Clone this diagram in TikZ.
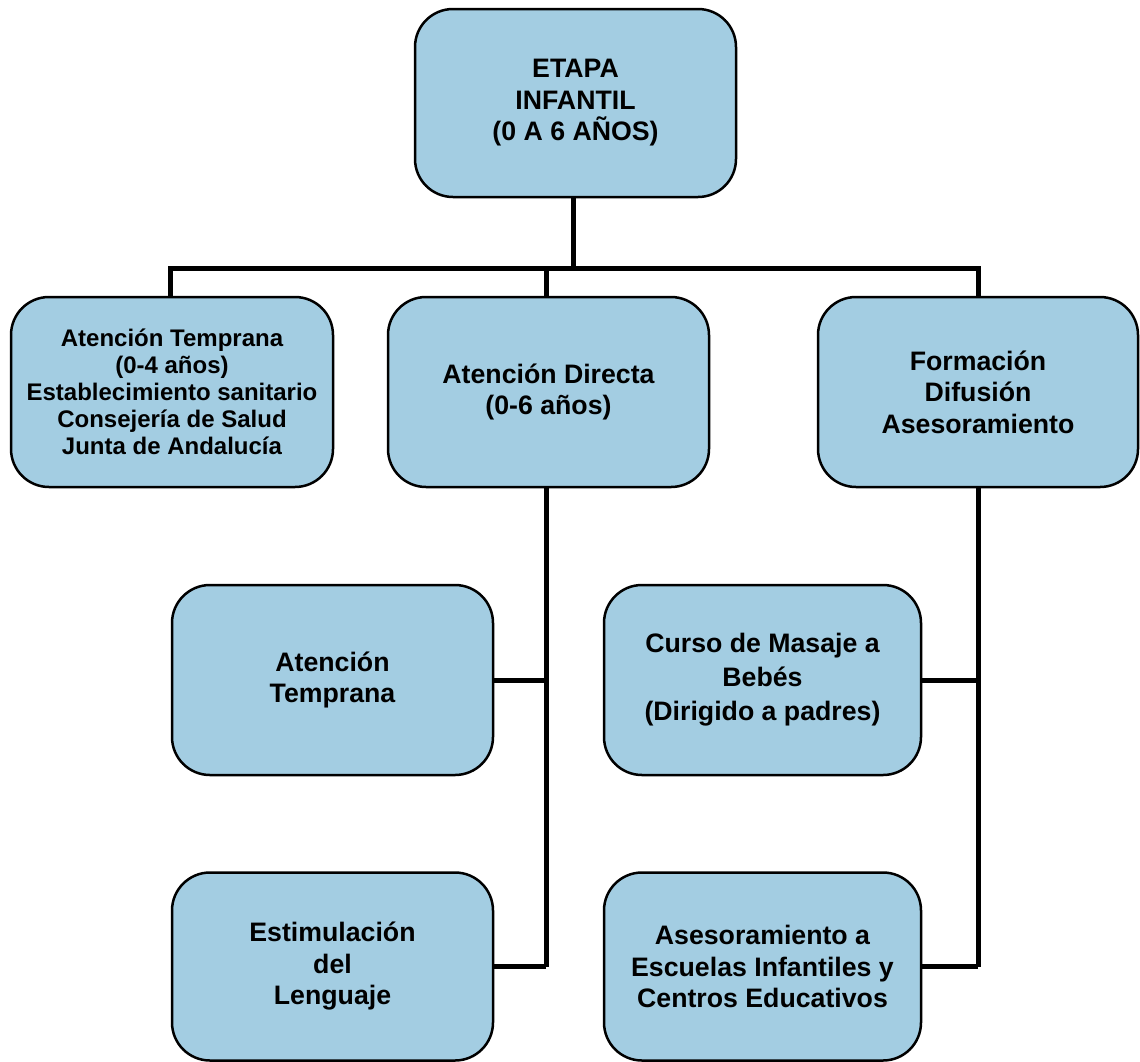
\documentclass[tikz,border=0pt]{standalone}
\usepackage{fontspec}
\setmainfont{Liberation Sans}
\definecolor{boxblue}{HTML}{A3CDE2}
\begin{document}
\begin{tikzpicture}[x=1pt,y=-1pt,
  bx/.style={draw=black, line width=2.5pt, fill=boxblue, rounded corners=38pt,
    align=center, font=\bfseries\fontsize{26.7}{31.5}\selectfont, inner sep=0pt},
  conn/.style={draw=black, line width=5pt}]
\useasboundingbox (0,0) rectangle (1140,1061);
\node[bx, minimum width=321pt, minimum height=188pt] (top) at (575.5,103) {\rule{0pt}{6pt}ETAPA\\INFANTIL\\(0 A 6 AÑOS)};
\node[bx, minimum width=322pt, minimum height=190pt, font=\bfseries\fontsize{24}{27}\selectfont] (l1) at (172,392) {Atención Temprana\\(0-4 años)\\Establecimiento sanitario\\Consejería de Salud\\Junta de Andalucía};
\node[bx, minimum width=321pt, minimum height=190pt] (m1) at (548.5,392) {Atención Directa\\(0-6 años)};
\node[bx, minimum width=320pt, minimum height=190pt] (r1) at (978,392) {Formación\\Difusión\\Asesoramiento};
\node[bx, minimum width=321pt, minimum height=190pt] (l2) at (332.5,680) {Atención\\Temprana};
\node[bx, minimum width=317pt, minimum height=190pt, font=\bfseries\fontsize{26.7}{34}\selectfont] (r2) at (762.5,680) {Curso de Masaje a\\Bebés\\(Dirigido a padres)};
\node[bx, minimum width=321pt, minimum height=188pt] (l3) at (332.5,966.5) {\rule{0pt}{8pt}Estimulación\\del\\Lenguaje};
\node[bx, minimum width=317pt, minimum height=188pt] (r3) at (762.5,966.5) {Asesoramiento a\\Escuelas Infantiles y\\Centros Educativos};
\coordinate (bus) at (573,268);
\coordinate (mx) at (546,0);
\coordinate (lx) at (170,0);
\draw[conn] (top.south -| bus) -- (bus);
\draw[conn] (l1.north -| lx) -- (lx |- bus) -- (r1.north |- bus) -- (r1.north);
\draw[conn] (m1.north -| mx) -- (mx |- bus);
\draw[conn] (m1.south -| mx) -- (mx |- l3.east);
\draw[conn] (l2.east) -- (l2.east -| mx);
\draw[conn] (l3.east) -- (l3.east -| mx);
\draw[conn] (r1.south) -- (r1.south |- r3.east);
\draw[conn] (r2.east) -- (r2.east -| r1.south);
\draw[conn] (r3.east) -- (r3.east -| r1.south);
\end{tikzpicture}
\end{document}
